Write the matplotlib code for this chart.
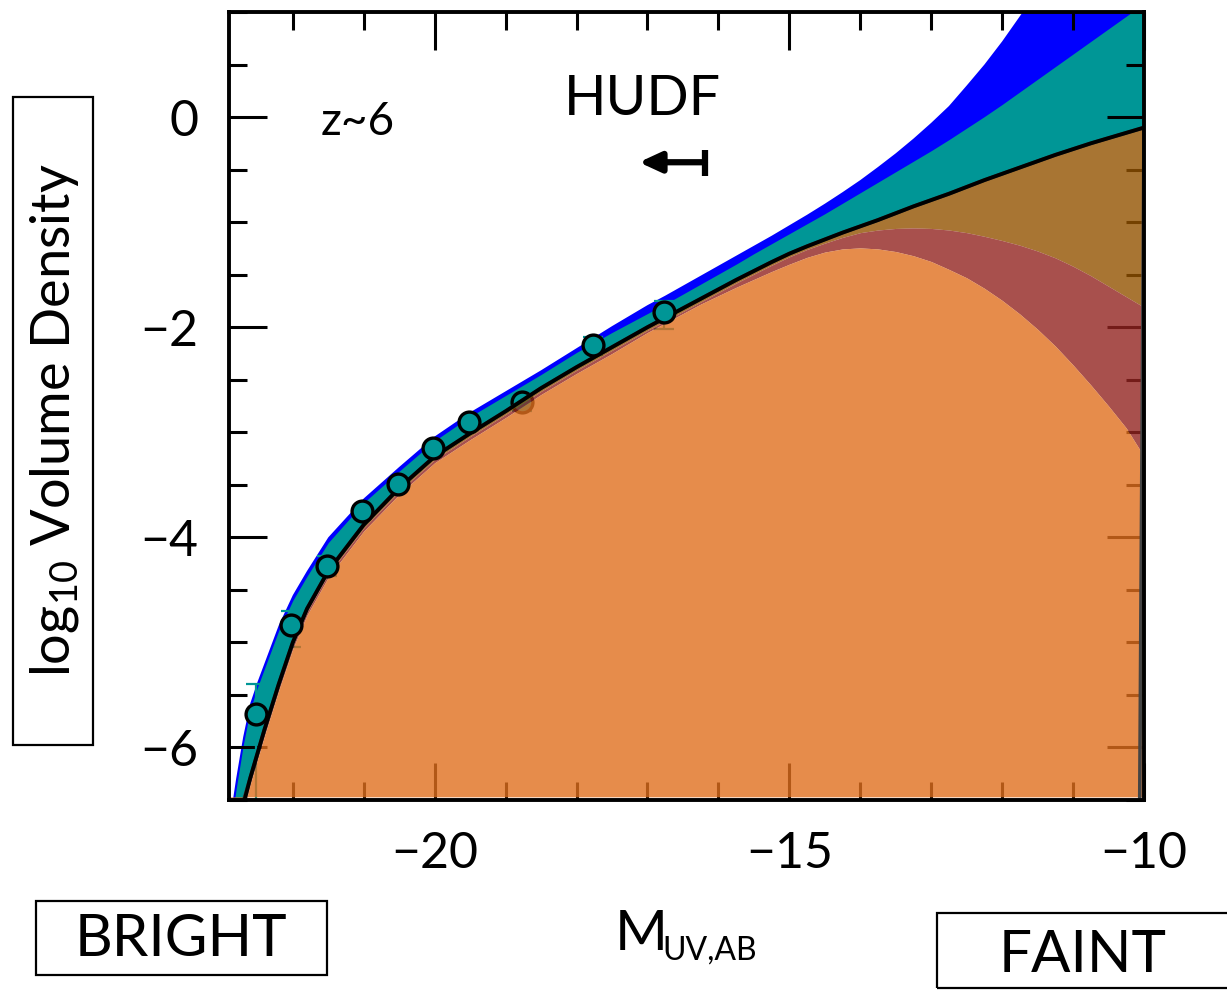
import matplotlib
matplotlib.use("Agg")
import matplotlib.pyplot as plt
from matplotlib.patches import Rectangle
from matplotlib.ticker import MultipleLocator
import numpy as np

plt.rcParams['font.family'] = ['Lato', 'DejaVu Sans']

# ---------------- data ----------------
mag_grid = [-22.9, -22.8, -22.7, -22.6, -22.5, -22.4, -22.2, -22.0, -21.8, -21.5,
            -21.0, -20.5, -20.0, -19.5, -19.0, -18.5, -18.0, -17.5,
            -17.0, -16.75, -16.5, -16.25, -16.0, -15.75, -15.5, -15.25, -15.0, -14.75,
            -14.5, -14.25, -14.0, -13.75, -13.5, -13.25, -13.0, -12.75, -12.5, -12.25,
            -12.0, -11.75, -11.5, -11.25, -11.0, -10.75, -10.5, -10.25, -10.0]

lf_best = [-7.20, -6.85, -6.55, -6.29, -6.06, -5.83, -5.40, -5.00, -4.68, -4.32,
           -3.88, -3.53, -3.23, -3.01, -2.80, -2.58, -2.38, -2.19,
           -2.00, -1.91, -1.82, -1.73, -1.64, -1.55, -1.465, -1.38, -1.30, -1.23,
           -1.165, -1.10, -1.04, -0.98, -0.915, -0.85, -0.79, -0.73, -0.665, -0.60,
           -0.54, -0.48, -0.42, -0.36, -0.305, -0.25, -0.20, -0.15, -0.10]

teal_upper = [-6.85, -6.40, -5.98, -5.64, -5.43, -5.25, -4.89, -4.60, -4.37, -4.05,
              -3.67, -3.37, -3.08, -2.85, -2.65, -2.45, -2.24, -2.05,
              -1.87, -1.78, -1.685, -1.59, -1.495, -1.40, -1.30, -1.205, -1.11, -1.015,
              -0.92, -0.82, -0.72, -0.62, -0.52, -0.42, -0.32, -0.215, -0.105, 0.005,
              0.12, 0.24, 0.36, 0.48, 0.60, 0.72, 0.84, 0.96, 1.08]

blue_upper = [-6.75, -6.30, -5.90, -5.58, -5.38, -5.20, -4.84, -4.55, -4.32, -4.00,
              -3.63, -3.33, -3.04, -2.81, -2.61, -2.41, -2.20, -1.99,
              -1.79, -1.70, -1.605, -1.51, -1.415, -1.32, -1.225, -1.13, -1.03, -0.93,
              -0.825, -0.715, -0.60, -0.475, -0.345, -0.205, -0.055, 0.105, 0.30, 0.50,
              0.72, 0.96, 1.20, 1.46, 1.74, 2.04, 2.36, 2.70, 3.05]

maroon_upper = [-7.23, -6.88, -6.58, -6.32, -6.09, -5.86, -5.43, -5.03, -4.71, -4.35,
                -3.91, -3.56, -3.26, -3.04, -2.83, -2.61, -2.41, -2.22,
                -2.03, -1.94, -1.85, -1.76, -1.67, -1.58, -1.495, -1.41, -1.33, -1.26,
                -1.20, -1.145, -1.10, -1.075, -1.06, -1.055, -1.06, -1.075, -1.10, -1.135,
                -1.175, -1.22, -1.275, -1.34, -1.42, -1.51, -1.61, -1.71, -1.81]

orange_upper = [-7.26, -6.91, -6.61, -6.35, -6.12, -5.89, -5.46, -5.06, -4.74, -4.38,
                -3.94, -3.59, -3.29, -3.07, -2.86, -2.64, -2.44, -2.25,
                -2.05, -1.96, -1.87, -1.78, -1.70, -1.62, -1.545, -1.47, -1.40, -1.335,
                -1.285, -1.255, -1.245, -1.255, -1.28, -1.32, -1.375, -1.45, -1.53, -1.63,
                -1.745, -1.875, -2.02, -2.18, -2.36, -2.55, -2.75, -2.96, -3.23]

obs_mag = [-22.52, -22.02, -21.52, -21.02, -20.52, -20.02, -19.52, -18.77, -17.77, -16.77]
obs_logphi = [-5.68, -4.83, -4.27, -3.75, -3.49, -3.15, -2.90, -2.71, -2.17, -1.86]
obs_err_up = [0.28, 0.13, 0.09, 0.05, 0.04, 0.04, 0.04, 0.07, 0.08, 0.11]
obs_err_lo = [1.20, 0.21, 0.10, 0.05, 0.04, 0.04, 0.04, 0.09, 0.09, 0.16]
# point drawn beneath the model shading in the original
obs_hidden = [False, False, False, False, False, False, False, True, False, False]

x_limits = (-22.9, -10.0)
y_limits = (-6.5, 1.0)
floor_level = -6.47

# ---------------- figure ----------------
fig = plt.figure(figsize=(12.27, 9.90), dpi=100)
ax = fig.add_axes([229/1227, 1 - 800/990, (1144-229)/1227, (800-12)/990])
ax.set_axisbelow(True)

x = np.array(mag_grid)
lf = np.array(lf_best)

ax.fill_between(x, lf, blue_upper, color='#0000FF', lw=0, zorder=0.2)
ax.fill_between(x, lf, teal_upper, color='#009696', lw=0, zorder=0.3)

# error bars (beneath the model shading)
ax.errorbar(obs_mag, obs_logphi, yerr=[obs_err_lo, obs_err_up], fmt='none',
            ecolor='#009696', elinewidth=1.6, capsize=7, capthick=1.6, zorder=0.8)

om = np.array(obs_mag)
op = np.array(obs_logphi)
hid = np.array(obs_hidden)
marker_kw = dict(ls='none', marker='o', ms=15, mfc='#009696', mec='black', mew=2.4)
ax.plot(om[hid], op[hid], zorder=0.85, **marker_kw)
ax.plot(om[~hid], op[~hid], zorder=2.6, **marker_kw)

alpha = 0.8
ax.fill_between(x, maroon_upper, lf, color='#925200', alpha=alpha, lw=0, zorder=1.0)
ax.fill_between(x, orange_upper, maroon_upper, color='#922420', alpha=alpha, lw=0, zorder=1.0)
ax.fill_between(x, floor_level, orange_upper, color='#E06F1E', alpha=alpha, lw=0, zorder=1.0)

# outline of the model region
lf_mask = lf >= floor_level
edge_x = [x_limits[0] + 0.22] + list(x[lf_mask]) + [-10.0, -10.06]
edge_y = [floor_level] + list(lf[lf_mask]) + [lf[-1], floor_level]
ax.plot(edge_x, edge_y, color='#444444', lw=2.6, zorder=1.9, solid_joinstyle='round')
ax.plot(x, lf, color='black', lw=2.8, zorder=2.0, solid_joinstyle='round')

ax.set_xlim(*x_limits)
ax.set_ylim(*y_limits)

ax.xaxis.set_major_locator(MultipleLocator(5))
ax.xaxis.set_minor_locator(MultipleLocator(1))
ax.yaxis.set_major_locator(MultipleLocator(2))
ax.yaxis.set_minor_locator(MultipleLocator(0.5))
ax.tick_params(which='both', direction='in', top=True, right=True, width=2.2, color='black')
ax.tick_params(which='major', length=27, labelsize=36, pad=22)
ax.tick_params(which='minor', length=13)
for s in ax.spines.values():
    s.set_linewidth(2.8)
    s.set_zorder(3)

# annotations
ax.text(-21.08, -0.05, 'z~6', fontsize=33, ha='center', va='center')
ax.text(-17.07, 0.17, 'HUDF', fontsize=40, ha='center', va='center')
ax.annotate('', xy=(-17.12, -0.43), xytext=(-16.19, -0.43),
            arrowprops=dict(arrowstyle='-|>,head_length=1.3,head_width=0.6', lw=4.5,
                            color='black', shrinkA=0, shrinkB=0))
ax.plot([-16.19, -16.19], [-0.31, -0.56], color='black', lw=4.5, solid_capstyle='butt')

# labels with boxes (figure pixel coordinates)
def fig_rect(x0, y0, x1, y1):
    r = Rectangle((x0/1227, 1 - y1/990), (x1-x0)/1227, (y1-y0)/990,
                  transform=fig.transFigure, fill=False, ec='black', lw=1.6)
    fig.add_artist(r)

fig_rect(13, 97, 93, 745)
fig.text(55/1227, 1 - 420/990, 'log$_{\\mathregular{10}}$ Volume Density', rotation=90,
         fontsize=39, ha='center', va='center')
fig_rect(36, 901, 327, 975)
fig.text(181/1227, 1 - 940/990, 'BRIGHT', fontsize=42, ha='center', va='center')
fig_rect(937, 913, 1240, 988)
fig.text(1083/1227, 1 - 955/990, 'FAINT', fontsize=42, ha='center', va='center')

fig.text(641/1227, 1 - 935/990, 'M', fontsize=41, ha='center', va='center')
fig.text(662/1227, 1 - 951/990, 'UV,AB', fontsize=23, ha='left', va='center')

fig.savefig('out.png', dpi=100)
